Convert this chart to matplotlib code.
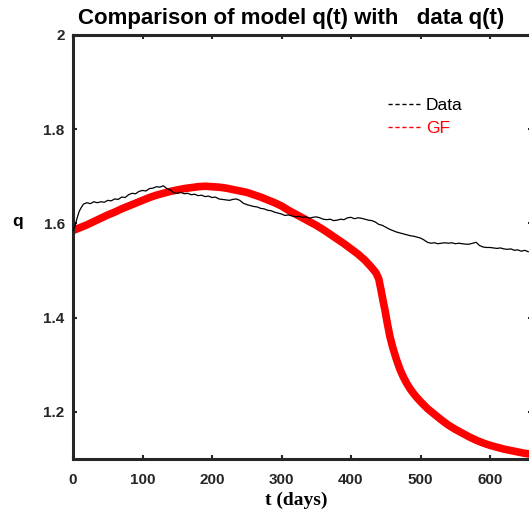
import numpy as np
import matplotlib
matplotlib.use('Agg')
import matplotlib.pyplot as plt
from matplotlib.lines import Line2D

data_t = [0, 3, 6, 9, 12, 15, 20, 25, 30, 35, 40, 45, 50, 55, 60, 65, 70, 75, 80, 85,
          90, 95, 100, 105, 110, 115, 120, 125, 130, 135, 140, 145, 150, 155, 160, 165,
          170, 175, 180, 185, 190, 195, 200, 205, 210, 215, 220, 225, 230, 235, 240, 245,
          250, 255, 260, 265, 270, 275, 280, 285, 290, 295, 300, 305, 310, 315, 320, 325,
          330, 335, 340, 345, 350, 355, 360, 365, 370, 375, 380, 385, 390, 395, 400, 405,
          410, 415, 420, 425, 430, 435, 440, 445, 450, 455, 460, 465, 470, 475, 480, 485,
          490, 495, 500, 505, 510, 515, 520, 525, 530, 535, 540, 545, 550, 555, 560, 565,
          570, 575, 580, 585, 590, 595, 600, 605, 610, 615, 620, 625, 630, 635, 640, 645,
          650, 655]
data_q = [1.585, 1.595, 1.612, 1.626, 1.634, 1.641, 1.644, 1.642, 1.646, 1.644, 1.646, 1.645,
          1.649, 1.648, 1.652, 1.651, 1.656, 1.655, 1.661, 1.664, 1.663, 1.668, 1.670, 1.669,
          1.674, 1.675, 1.678, 1.677, 1.680, 1.674, 1.671, 1.665, 1.664, 1.666, 1.663, 1.664,
          1.661, 1.662, 1.659, 1.660, 1.657, 1.658, 1.655, 1.656, 1.652, 1.651, 1.650, 1.649,
          1.651, 1.652, 1.649, 1.643, 1.640, 1.638, 1.636, 1.635, 1.632, 1.631, 1.628, 1.627,
          1.624, 1.622, 1.620, 1.617, 1.618, 1.616, 1.614, 1.615, 1.613, 1.614, 1.611, 1.613,
          1.614, 1.612, 1.609, 1.608, 1.609, 1.606, 1.607, 1.609, 1.608, 1.612, 1.613, 1.610,
          1.612, 1.611, 1.609, 1.607, 1.606, 1.603, 1.598, 1.596, 1.592, 1.588, 1.585, 1.582,
          1.580, 1.578, 1.576, 1.574, 1.573, 1.571, 1.569, 1.565, 1.560, 1.558, 1.559, 1.557,
          1.558, 1.559, 1.558, 1.559, 1.557, 1.558, 1.557, 1.556, 1.556, 1.558, 1.560, 1.553,
          1.550, 1.549, 1.549, 1.548, 1.547, 1.548, 1.546, 1.545, 1.546, 1.543, 1.544, 1.541,
          1.543, 1.540]

# model (GF) q(t)
gf_t = [0, 10, 20, 30, 40, 50, 60, 70, 80, 90, 100, 110, 120, 130, 140, 150, 160, 170,
        180, 190, 200, 210, 220, 230, 240, 250, 260, 270, 280, 290, 300, 310, 320, 330,
        340, 350, 360, 370, 380, 390, 400, 410, 420, 430, 436, 440, 443, 446, 449, 452,
        456, 460, 465, 470, 475, 480, 485, 490, 495, 500, 510, 520, 530, 540, 550, 560,
        570, 580, 590, 600, 610, 620, 630, 640, 650, 660]
gf_q = [1.585, 1.591, 1.597, 1.604, 1.611, 1.618, 1.624, 1.631, 1.637, 1.643, 1.649, 1.655,
        1.660, 1.664, 1.668, 1.671, 1.674, 1.676, 1.678, 1.679, 1.678, 1.677, 1.675, 1.672,
        1.669, 1.666, 1.661, 1.656, 1.650, 1.644, 1.637, 1.628, 1.620, 1.612, 1.604, 1.596,
        1.587, 1.577, 1.567, 1.557, 1.546, 1.535, 1.522, 1.506, 1.495, 1.482, 1.460, 1.437,
        1.415, 1.390, 1.360, 1.337, 1.313, 1.292, 1.275, 1.261, 1.249, 1.239, 1.230, 1.222,
        1.207, 1.195, 1.183, 1.172, 1.163, 1.155, 1.147, 1.140, 1.134, 1.129, 1.125, 1.121,
        1.118, 1.115, 1.112, 1.110]

xticks = [0, 100, 200, 300, 400, 500, 600]
yticks = [1.2, 1.4, 1.6, 1.8, 2.0]
ytick_labels = ['1.2', '1.4', '1.6', '1.8', '2']

W, H = 529, 517
fig = plt.figure(figsize=(W / 100, H / 100), dpi=100)
ax = fig.add_axes([73 / W, 58 / H, 458.7 / W, 424 / H])

ax.plot(gf_t, gf_q, color='red', lw=5.5, solid_capstyle='butt', solid_joinstyle='round',
        zorder=2)
ax.plot(data_t, data_q, color='black', lw=0.9, zorder=3)

ax.set_xlim(0, 660)
ax.set_ylim(1.1, 2.0)
ax.set_xticks(xticks)
ax.set_yticks(yticks)
ax.set_yticklabels(ytick_labels)

dark = '#262626'
for s in ax.spines.values():
    s.set_linewidth(2.2)
    s.set_color(dark)
ax.tick_params(direction='in', length=3, width=1.5, color=dark, top=True, right=True,
               labelsize=11, labelcolor=dark)
ax.tick_params(axis='x', pad=10)
ax.tick_params(axis='y', pad=6)
for lab in ax.get_xticklabels() + ax.get_yticklabels():
    lab.set_fontweight('bold')
    lab.set_fontfamily('Liberation Sans')

ax.set_title('Comparison of model q(t) with   data q(t)', fontsize=16, fontweight='bold',
             family='Liberation Sans', x=0.476, pad=8)
ax.set_xlabel('t (days)', fontsize=14, fontweight='bold', family='Liberation Serif')
ax.xaxis.set_label_coords(0.487, -0.097)
ax.xaxis.label.set_va('center')
ax.set_ylabel('q', fontsize=12.5, fontweight='bold', family='Liberation Sans', rotation=0)
ax.yaxis.set_label_coords(-0.12, 0.56)
ax.yaxis.label.set_va('center')
ax.yaxis.label.set_ha('center')

handles = [Line2D([], [], color='black', lw=1, ls=(0, (3, 2))),
           Line2D([], [], color='red', lw=1, ls=(0, (3, 2)))]
ax.legend(handles, ['Data', 'GF'], loc='upper left', bbox_to_anchor=(379 / W, 1 - 89 / H),
          bbox_transform=fig.transFigure, frameon=False, borderpad=0, handlelength=1.9,
          handletextpad=0.3, labelspacing=0.45, labelcolor=['black', 'red'],
          prop={'family': 'Liberation Sans', 'size': 12.5})

fig.savefig('out.png', dpi=100)
